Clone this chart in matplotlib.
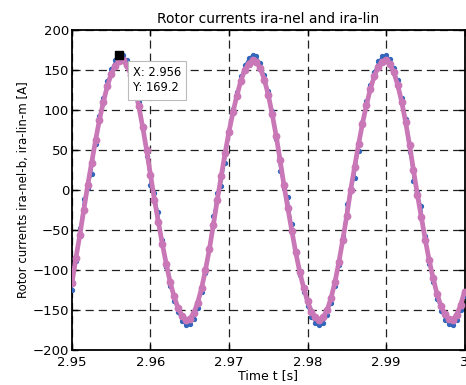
import numpy as np
import matplotlib
matplotlib.use("Agg")
import matplotlib.pyplot as plt

# sample times and currents (step 0.5 ms)
t_start, t_step = 2.95, 0.0005
ira_lin = [-116, -85, -56, -25, 6, 34, 62, 88, 110, 130,
           145, 155, 161, 162, 156, 144, 127, 105, 79, 50,
           19, -12, -40, -67, -92, -115, -133, -147, -157, -162,
           -161, -154, -141, -123, -100, -74, -44, -13, 17, 46,
           73, 97, 118, 136, 150, 158, 162, 160, 152, 138,
           119, 95, 68, 38, 6, -23, -51, -78, -102, -122,
           -139, -152, -159, -162, -159, -150, -135, -115, -90, -62,
           -32, 0, 29, 57, 83, 106, 126, 142, 154, 160,
           162, 157, 147, 131, 110, 85, 56, 25, -6, -34,
           -62, -88, -110, -130, -145, -155, -161, -162, -156, -144,
           -127]
ira_nel = [-125, -89, -48, -11, 2, 20, 58, 92, 115, 136,
           151, 162, 169, 169, 163, 150, 132, 110, 78, 42,
           6, -4, -28, -63, -96, -120, -139, -153, -164, -169,
           -168, -161, -147, -128, -104, -73, -32, -4, 5, 34,
           72, 101, 123, 142, 156, 165, 169, 167, 159, 144,
           124, 99, 64, 24, 2, -9, -43, -77, -106, -127,
           -145, -159, -166, -169, -166, -156, -141, -120, -94, -58,
           -18, 0, 15, 49, 85, 111, 131, 148, 161, 167,
           169, 164, 153, 137, 115, 89, 48, 11, -2, -20,
           -58, -92, -115, -136, -151, -162, -168, -169, -163, -150,
           -132]
tip_x, tip_y = 2.956, 169.2
xticks = [2.95, 2.96, 2.97, 2.98, 2.99, 3.0]
xticklabels = ["2.95", "2.96", "2.97", "2.98", "2.99", "3"]
yticks = list(range(-200, 201, 50))

t = t_start + t_step * np.arange(len(ira_lin))

plt.rcParams['font.family'] = 'DejaVu Sans'
fig = plt.figure(figsize=(4.66, 3.85), dpi=100)
ax = fig.add_axes([0.1545, 0.0909, 0.8423, 0.8311])

ax.plot(t, ira_nel, color='#3366bb', lw=1.0, marker='o', ms=2.8, mec='#3366bb', zorder=3)
ax.plot(t, ira_lin, color='#c977b7', lw=3.4, marker='o', ms=4.6, mec='#c977b7', zorder=4)

ax.plot([tip_x], [tip_y], marker='s', color='k', ms=6, zorder=6)
ax.annotate(f"X: {tip_x:.3f}\nY: {tip_y:.1f}", xy=(tip_x, tip_y), xytext=(10, -8.5),
            textcoords='offset points', ha='left', va='top', fontsize=8.3, linespacing=1.2,
            bbox=dict(boxstyle='square,pad=0.45', fc='white', ec='#bbbbbb', lw=0.8), zorder=7)

ax.set_xlim(2.95, 3.0)
ax.set_ylim(-200, 200)
ax.set_xticks(xticks)
ax.set_xticklabels(xticklabels)
ax.set_yticks(yticks)
ax.grid(True, color='#222222', lw=0.9, linestyle=(0, (6.5, 4)))
ax.set_axisbelow(True)
ax.tick_params(direction='in', top=True, right=True, length=4, width=1, labelsize=9.5, pad=2)
ax.tick_params(axis='x', pad=4)
for s in ax.spines.values():
    s.set_linewidth(1.3)

ax.set_title("Rotor currents ira-nel and ira-lin", fontsize=10, pad=5)
ax.set_xlabel("Time t [s]", fontsize=9, labelpad=0)
ax.set_ylabel("Rotor currents ira-nel-b, ira-lin-m [A]", fontsize=8.5, labelpad=2)

fig.savefig("out.png", dpi=100)
